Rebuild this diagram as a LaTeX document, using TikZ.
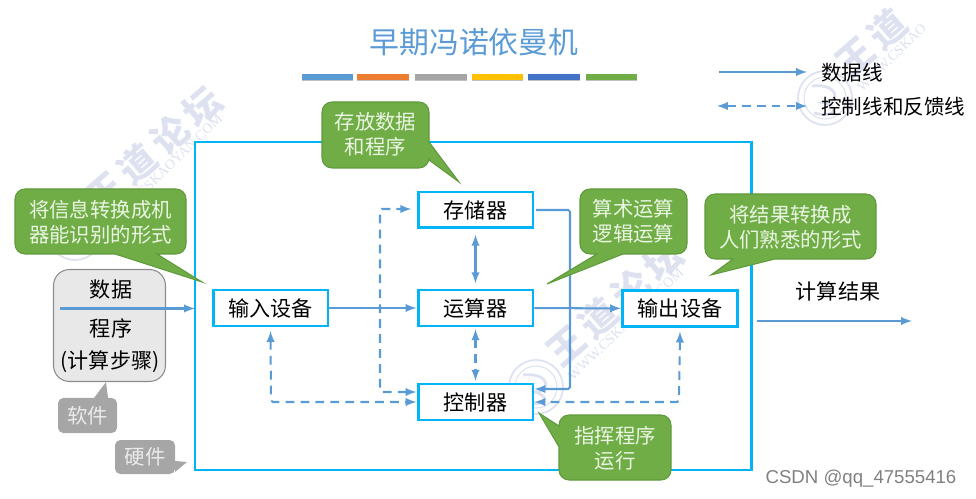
\documentclass[tikz,border=0pt]{standalone}
\usepackage{fontspec}
\setmainfont{Noto Sans CJK SC}
\newfontfamily\csdnfont{Liberation Sans}
\newfontfamily\wwwfont{Liberation Serif}
\definecolor{linecol}{HTML}{5B9BD5}
\definecolor{framecol}{HTML}{00B4F5}
\definecolor{notecol}{HTML}{70AD47}
\definecolor{noteedge}{HTML}{5F9A3C}
\definecolor{notetext}{HTML}{EAF5E2}
\definecolor{softcol}{HTML}{A6A6A6}
\definecolor{markcol}{HTML}{DDE1F0}
\tikzset{
  unit/.style={draw=framecol,line width=1.7pt,fill=white,minimum width=2.3cm,minimum height=0.72cm,inner sep=0pt,font=\fontsize{12}{14}\selectfont},
  dataline/.style={draw=linecol,line width=1.15pt,->},
  ctrlline/.style={draw=linecol,line width=1.15pt,dashed,dash pattern=on 5pt off 3.5pt,<->},
  greennote/.style={draw=noteedge,fill=notecol,line width=0.6pt},
  notelabel/.style={text=notetext,align=center,inner sep=0pt,font=\fontsize{11.6}{14.3}\selectfont},
  softnote/.style={fill=softcol},
  softlabel/.style={text=white!92!black,inner sep=0pt,font=\fontsize{11.6}{14}\selectfont},
  plainlabel/.style={inner sep=0pt,font=\fontsize{12}{14}\selectfont},
  marktext/.style={rotate=41,anchor=west,text=markcol,inner sep=0pt,font=\fontsize{21}{24}\selectfont\bfseries},
  marksite/.style={rotate=44,anchor=west,text=markcol,inner sep=0pt,font=\fontsize{8}{9}\selectfont\wwwfont}
}
\begin{document}
\begin{tikzpicture}[x=0.02cm,y=-0.02cm,>=latex]
\useasboundingbox (0,0) rectangle (976,499);

% watermark
\foreach \i/\wx/\wy/\wtext/\wsite in {1/-461/-154/{王\hspace{3.5pt}道\hspace{3.5pt}论\hspace{3.5pt}坛}/WWW.CSKAOYAN.COM,2/0/0/{王\hspace{3.5pt}道\hspace{3.5pt}论\hspace{3.5pt}坛}/WWW.CSKAOYAN.COM,3/289/-289/{王\hspace{3.5pt}道}/WWW.CSKAO}{
  \begin{scope}[shift={(\wx,\wy)}]
  \draw[markcol,line width=1pt] (536,387) circle (27);
  \draw[markcol,line width=0.6pt] (536,387) circle (21);
  \draw[markcol,line width=1.6pt] (523,375) .. controls (550,372) and (552,392) .. (535,392) .. controls (550,396) and (548,408) .. (525,402);
  \node[marktext] (mark\i) at (552,358) {\wtext};
  \node[marksite] (site\i) at (570,378) {\wsite};
  \end{scope}
}

% title and legend
\node[text=linecol,inner sep=0pt,font=\fontsize{17}{20}\selectfont] (title) at (474,42) {早期冯诺依曼机};
\foreach \xa/\xb/\barcol in {302/353/5B9BD5,357/409/ED7D31,415/467/A5A5A5,472/523/FFC000,528/580/4472C4,586/637/70AD47}{
  \definecolor{barcol}{HTML}{\barcol}
  \fill[black!25] (\xa,76) rectangle (\xb,81.5);
  \fill[barcol] (\xa,74.5) rectangle (\xb,80);
}
\coordinate (legA) at (719,72);
\coordinate (legB) at (807,72);
\coordinate (legC) at (717,106);
\coordinate (legD) at (807,106);
\draw[dataline] (legA)--(legB);
\draw[ctrlline] (legC)--(legD);
\node[plainlabel,anchor=west,font=\fontsize{11.7}{14}\selectfont] (legdata) at (821,73) {数据线};
\node[plainlabel,anchor=west,font=\fontsize{11.7}{14}\selectfont] (legctrl) at (821,107) {控制线和反馈线};

% machine
\draw[framecol,line width=1.7pt] (195,142) rectangle (751,470);
\node[unit] (input) at (270.5,308) {输入设备};
\node[unit] (mem) at (475.5,210) {存储器};
\node[unit] (alu) at (475.5,308) {运算器};
\node[unit] (ctrl) at (475.5,402) {控制器};
\node[unit] (output) at (680,308.5) {输出设备};

\draw[dataline] (input)--(alu);
\draw[dataline] (alu)--(output);
\draw[draw=linecol,line width=1.15pt,<->] ([yshift=-3pt]mem.south)--([yshift=3pt]alu.north);
\draw[ctrlline] ([yshift=-1pt]alu.south)--([yshift=1pt]ctrl.north);
\coordinate (memturn) at (570,210);
\coordinate (ctrlturn) at (570,389);
\draw[dataline,rounded corners=1pt] ([xshift=1pt]mem.east)--(memturn)--(ctrlturn)--(ctrlturn-|ctrl.east);
\coordinate (loopa) at (380,392);
\coordinate (loopb) at (380,209);
\draw[ctrlline,rounded corners=1pt] (loopa-|ctrl.west)--(loopa)--(loopb)--([xshift=-3pt]loopb-|mem.west);
\coordinate (backa) at (271,402);
\coordinate (backb) at (679,402);
\draw[ctrlline,rounded corners=1pt] ([yshift=-2pt]input.south)--(backa)--(ctrl.west);
\draw[ctrlline,rounded corners=1pt] ([yshift=-2pt]output.south)--(backb)--(ctrl.east);

% software
\node[draw=black!45,fill=black!9,line width=0.6pt,rounded corners=0.32cm,minimum width=2.24cm,minimum height=2.24cm] (prog) at (109.5,325.5) {};
\node[plainlabel] (progA) at (111,290) {数据};
\node[plainlabel] (progB) at (111,328) {程序};
\node[plainlabel] (progC) at (110,362) {(计算步骤)};
\coordinate (progin) at (60,308.5);
\draw[dataline] (progin)--(progin-|195,0);

\fill[softnote] (106,382)--(108,398) [rounded corners=3pt]--(117,398)--(117,433)--(58,433)--(58,398)[sharp corners]--(94,398)--cycle;
\node[softlabel] (softA) at (87.5,416) {软件};
\fill[softnote] (187,462)--(175,472) [rounded corners=3pt]--(175,474)--(115,474)--(115,440)--(175,440)[sharp corners]--(175,461)--cycle;
\node[softlabel] (softB) at (145,457) {硬件};

% notes
\draw[greennote] (202,282)--(157,254) [rounded corners=0.2cm]--(186,254)--(186,189)--(15,189)--(15,254)[sharp corners]--(115,254)--cycle;
\node[notelabel] (noteA) at (100.5,222) {将信息转换成机\\器能识别的形式};
\draw[greennote] (459,182)--(429,160) [rounded corners=0.2cm]--(429,168)--(322,168)--(322,102)--(429,102)[sharp corners]--(429,142)--cycle;
\node[notelabel] (noteB) at (375.5,134.5) {存放数据\\和程序};
\draw[greennote] (547,284)--(597,254) [rounded corners=0.2cm]--(580,254)--(580,189)--(687,189)--(687,254)[sharp corners]--(623,254)--cycle;
\node[notelabel] (noteC) at (633.5,221.5) {算术运算\\逻辑运算};
\draw[greennote] (711,275)--(733,259) [rounded corners=0.2cm]--(705,259)--(705,194)--(876,194)--(876,259)[sharp corners]--(775,259)--cycle;
\node[notelabel] (noteD) at (790.5,227) {将结果转换成\\人们熟悉的形式};
\draw[greennote] (539,413)--(559,426) [rounded corners=0.2cm]--(559,415)--(671,415)--(671,480)--(559,480)[sharp corners]--(559,447)--cycle;
\node[notelabel] (noteE) at (615,448) {指挥程序\\运行};

% result
\node[plainlabel] (result) at (838,291) {计算结果};
\coordinate (resa) at (757,321);
\coordinate (resb) at (912,321);
\draw[dataline] (resa)--(resb);
\node[inner sep=0pt,text=black!50,font=\fontsize{10.6}{12}\selectfont\csdnfont] (csdn) at (861,479) {CSDN @qq\_47555416};
\end{tikzpicture}
\end{document}
